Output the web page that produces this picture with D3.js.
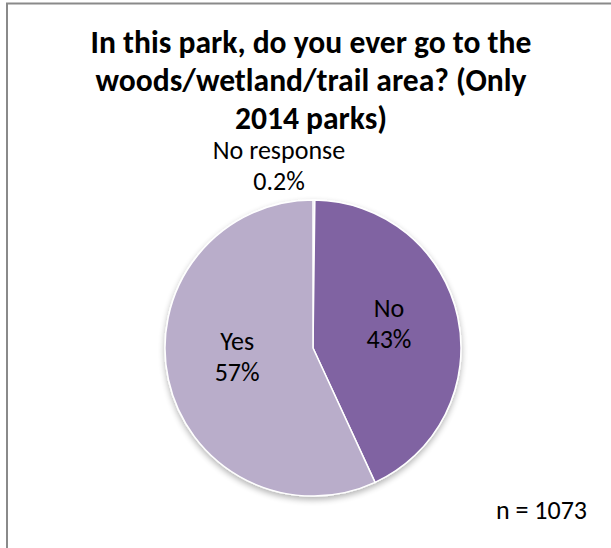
<!DOCTYPE html>
<html>
<head>
<meta charset="utf-8">
<script src="https://cdn.jsdelivr.net/npm/d3@7"></script>
<style>
  html, body { margin: 0; padding: 0; background: #ffffff; }
  svg { display: block; }
  text { font-family: Carlito, Calibri, Lato, "Liberation Sans", sans-serif; fill: #000; }
</style>
</head>
<body>
<svg id="chart" width="611" height="548"></svg>
<script>
// Survey answers (share of respondents, %)
const categories = ["No response", "No", "Yes"];
const values = [0.2, 43, 57];
const labels = ["0.2%", "43%", "57%"];
const colors = ["#5E4A7C", "#8064A2", "#B9ADCA"];
const titleLines = [
  "In this park, do you ever go to the",
  "woods/wetland/trail area? (Only",
  "2014 parks)"
];
const note = "n = 1073";

const svg = d3.select("#chart");

// Chart frame (runs off the right and bottom edges)
svg.append("rect")
  .attr("x", 7).attr("y", 3.5)
  .attr("width", 800).attr("height", 800)
  .attr("fill", "#fff")
  .attr("stroke", "#8a8a8a")
  .attr("stroke-width", 2);

// Soft shadow under the pie
const defs = svg.append("defs");
const f = defs.append("filter").attr("id", "shadow")
  .attr("x", "-20%").attr("y", "-20%").attr("width", "140%").attr("height", "140%");
f.append("feGaussianBlur").attr("in", "SourceAlpha").attr("stdDeviation", 3).attr("result", "b");
f.append("feOffset").attr("in", "b").attr("dx", 0).attr("dy", 3).attr("result", "o");
f.append("feComponentTransfer").attr("in", "o").attr("result", "s")
  .append("feFuncA").attr("type", "linear").attr("slope", 0.3);
const m = f.append("feMerge");
m.append("feMergeNode").attr("in", "s");
m.append("feMergeNode").attr("in", "SourceGraphic");

// Title
const titleSize = 31;
const title = svg.append("g").attr("font-weight", "bold");
title.selectAll("text").data(titleLines).join("text")
  .attr("x", 311)
  .attr("y", (d, i) => 53 + i * 38)
  .attr("text-anchor", "middle")
  .attr("font-size", titleSize)
  .text(d => d);
// fit the first line to its width
const t0 = title.select("text").node().getComputedTextLength();
title.selectAll("text").attr("font-size", titleSize * 441 / t0);

// Pie
const cx = 313, cy = 348, R = 148;
const pie = d3.pie().sort(null).value(d => d)(values);
const arc = d3.arc().innerRadius(0).outerRadius(R);

const g = svg.append("g").attr("transform", `translate(${cx},${cy})`);
g.append("g").attr("filter", "url(#shadow)")
  .selectAll("path").data(pie).join("path")
  .attr("d", arc)
  .attr("fill", (d, i) => colors[i])
  .attr("stroke", "#fff")
  .attr("stroke-width", 1.5)
  .attr("stroke-linejoin", "round");

// Data labels
const labelSize = 26;
const labelPos = [
  [279 - cx, 159 - cy],     // outside, above the sliver
  null, null
];
const inner = d3.arc().innerRadius(0).outerRadius(R * 1.05);
const lg = g.append("g").attr("font-size", labelSize);
pie.forEach((d, i) => {
  let x, y;
  if (labelPos[i]) { [x, y] = labelPos[i]; }
  else { [x, y] = inner.centroid(d); y -= 15; }
  const t = lg.append("text").attr("text-anchor", "middle");
  t.append("tspan").attr("x", x).attr("y", y).text(categories[i]);
  t.append("tspan").attr("x", x).attr("y", y + 31).text(labels[i]);
});

// Sample size
svg.append("text")
  .attr("x", 587).attr("y", 519)
  .attr("text-anchor", "end")
  .attr("font-size", labelSize)
  .text(note);
</script>
</body>
</html>
